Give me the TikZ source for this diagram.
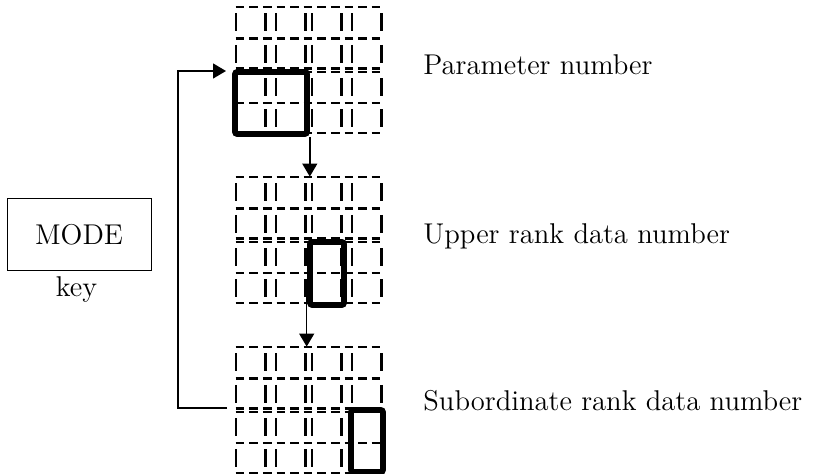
\documentclass[tikz,border=0pt]{standalone}
\usepackage{xcolor}
\usepackage{tikz}
\usetikzlibrary{calc,arrows.meta}

\begin{document}
\begin{tikzpicture}[x=0.5pt,y=-0.5pt,
    hline/.style={line width=1.2pt, dash pattern=on 4.3pt off 2.5pt},
    vline/.style={line width=1.2pt},
    selbox/.style={draw, line width=2.8pt, rounded corners=1pt, inner sep=0pt},
    flow/.style={line width=0.7pt, -{Triangle[length=6.5pt,width=7.5pt]}},
    lbl/.style={anchor=base west, inner sep=0pt, font=\fontsize{14.3}{17}\selectfont}]

    \useasboundingbox (0,0) rectangle (827,474);

    % 1. Ba khoi hien thi 4 x 2 chu so (net dut)
    \foreach \t/\n in {7/1,177/2,347/3} {
        \node[minimum width=73pt, minimum height=63pt, inner sep=0pt] (disp\n) at (308.5,\t+63) {};
        \foreach \dy in {0,31.5,61.5,65,96,126}
            \draw[hline] (235.7,\t+\dy) -- (381.3,\t+\dy);
        \foreach \x in {235.7,265.3,276,305.6,311.7,341.3,351.7,381.3}
            \foreach \dy in {0,31.5,65,96}
                \draw[vline] (\x,\t+\dy+6.5) -- (\x,\t+\dy+24.5);
    }

    % 2. Cac o dang chon (net dam)
    \node[selbox, minimum width=36pt, minimum height=31pt] (sel1) at (271,103) {};
    \node[selbox, minimum width=17pt, minimum height=31.5pt] (sel2) at (327,273.5) {};
    \node[selbox, minimum width=16pt, minimum height=31pt] (sel3) at (367,441) {};

    % 3. Phim MODE
    \node[draw, line width=0.5pt, minimum width=72pt, minimum height=36pt,
          font=\fontsize{14.3}{17}\selectfont] (mode) at (79,235) {MODE};
    \node[anchor=north, inner sep=0pt, font=\fontsize{14.3}{17}\selectfont] (key) at (76.5,276) {key};

    % 4. Cac mui ten chuyen buoc
    \coordinate (a2) at (306.7,293);
    \coordinate (fbout) at (227,408);
    \coordinate (fbin) at (226,71);
    \draw[flow] (sel1.south east) -- (sel1.south east |- disp2.north);
    \draw[flow] (a2) -- (a2 |- disp3.north);
    \draw[flow] (fbout) -- ++(-49,0) |- (fbin);

    % 5. Nhan ben phai
    \node[lbl] (lab1) at (423,75) {Parameter number};
    \node[lbl] (lab2) at (423,244) {Upper rank data number};
    \node[lbl] (lab3) at (423,410.7) {Subordinate rank data number};

\end{tikzpicture}
\end{document}
